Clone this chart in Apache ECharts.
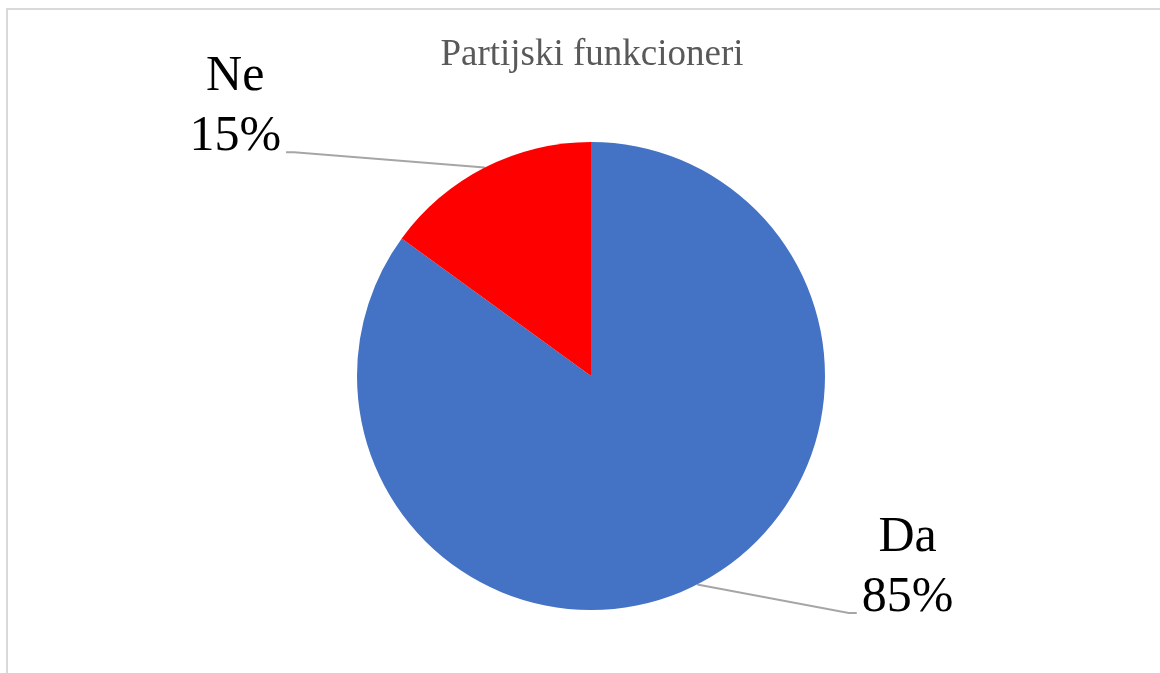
<!DOCTYPE html>
<html>
<head>
<meta charset="utf-8">
<script src="https://cdn.jsdelivr.net/npm/echarts@6/dist/echarts.min.js"></script>
<style>
  html, body { margin: 0; padding: 0; background: #fff; }
  #chart { position: absolute; left: 0; top: 0; width: 1160px; height: 673px; }
  #frame { position: absolute; left: 6px; top: 8px; width: 1160px; height: 700px;
           border-left: 2px solid #d9d9d9; border-top: 2px solid #d9d9d9; pointer-events: none; }
</style>
</head>
<body>
<div id="chart"></div>
<div id="frame"></div>
<script>
const titleText = 'Partijski funkcioneri';
const categories = ['Da', 'Ne'];
const values = [85, 15];
const colors = ['#4472C4', '#FF0000'];
const lineLengths = [[32, 145], [17, 191]];

const chart = echarts.init(document.getElementById('chart'), null, { renderer: 'canvas' });

const data = categories.map((name, i) => ({
  name: name,
  value: values[i],
  itemStyle: { color: colors[i] },
  labelLine: { length: lineLengths[i][0], length2: lineLengths[i][1] }
}));

chart.setOption({
  animation: false,
  backgroundColor: '#ffffff',
  title: {
    text: titleText,
    left: 587,
    top: 32,
    textAlign: 'center',
    textStyle: {
      fontFamily: 'Liberation Serif',
      fontSize: 37,
      lineHeight: 37,
      fontWeight: 'normal',
      color: '#595959'
    }
  },
  series: [{
    type: 'pie',
    center: [591, 376],
    radius: 234,
    startAngle: 90,
    clockwise: true,
    data: data,
    itemStyle: { borderWidth: 0 },
    label: {
      show: true,
      position: 'outside',
      formatter: p => '{a|' + p.name + '}\n{a|' + Math.round(p.percent) + '%}',
      padding: [0, 0, 90, 0],
      rich: {
        a: {
          fontFamily: 'Liberation Serif',
          fontSize: 50,
          lineHeight: 60,
          color: '#000000',
          align: 'center'
        }
      }
    },
    labelLine: {
      show: true,
      lineStyle: { color: '#A6A6A6', width: 2 }
    },
    labelLayout: function (params) {
      const pts = params.labelLinePoints;
      if (!pts || pts.length < 3) return {};
      const p0 = pts[0], p2 = pts[2];
      const dir = p2[0] > p0[0] ? -1 : 1;
      return { labelLinePoints: [p0, [p2[0] + dir * 8, p2[1]], p2] };
    }
  }]
});
</script>
</body>
</html>
